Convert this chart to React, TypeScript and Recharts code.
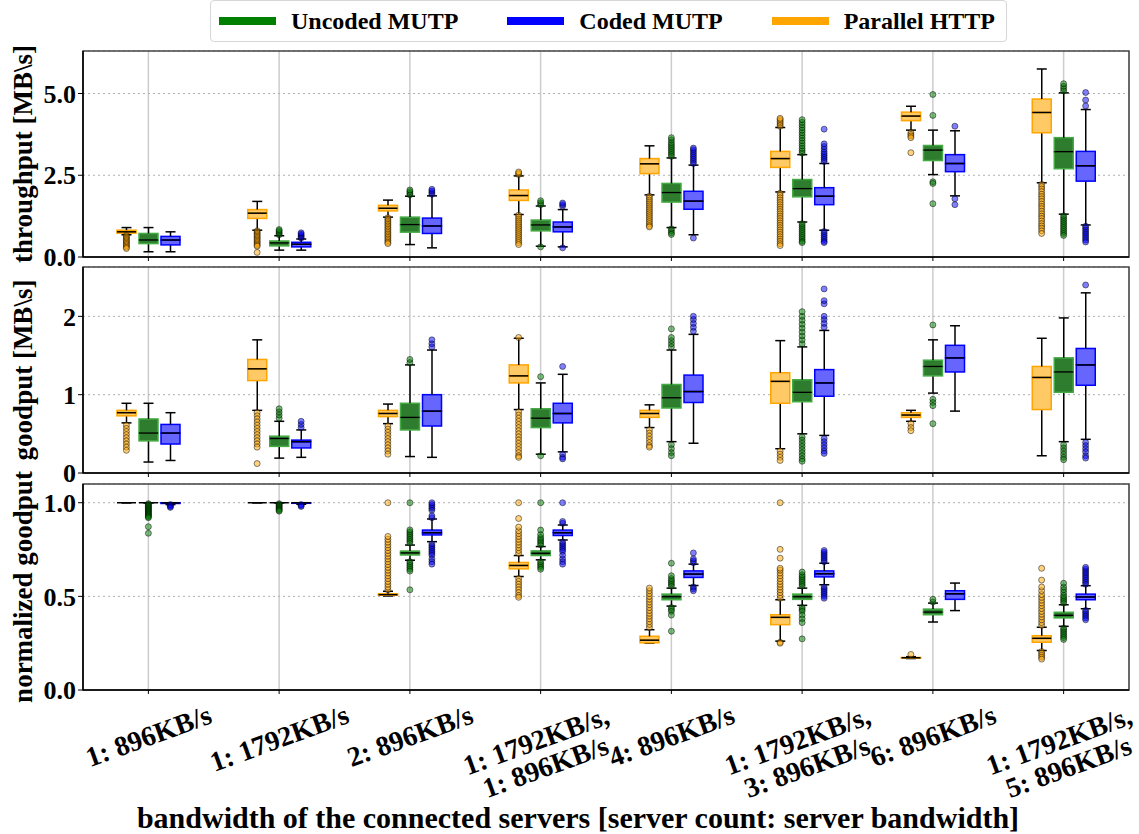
import React from 'react';
import { ComposedChart, Bar, Scatter, XAxis, YAxis, CartesianGrid, Label, ReferenceArea } from 'recharts';

const W = 1139;
const H = 834;
const FONT = '"Liberation Serif", "DejaVu Serif", serif';
const YW = 83; // width of the left axis block
const RIGHT = 10;
const BAR = 19;
const GAP = 3;
const CAP = 5;

const categories = [
  '1: 896KB/s',
  '1: 1792KB/s',
  '2: 896KB/s',
  '1: 1792KB/s,\n1: 896KB/s',
  '4: 896KB/s',
  '1: 1792KB/s,\n3: 896KB/s',
  '6: 896KB/s',
  '1: 1792KB/s,\n5: 896KB/s',
];

// box stats per category: [lower whisker, q1, median, q3, upper whisker]
const tputHttp = [
  [0.68, 0.73, 0.77, 0.82, 0.9], [0.82, 1.18, 1.34, 1.45, 1.7], [1.22, 1.41, 1.49, 1.58, 1.74], [1.3, 1.73, 1.88, 2.05, 2.48],
  [1.9, 2.55, 2.85, 3.01, 3.4], [1.99, 2.74, 3.01, 3.23, 3.96], [3.88, 4.17, 4.31, 4.43, 4.61], [2.27, 3.8, 4.42, 4.83, 5.75],
];
const tputUncoded = [
  [0.16, 0.41, 0.52, 0.72, 0.9], [0.21, 0.34, 0.43, 0.49, 0.65], [0.38, 0.76, 0.99, 1.22, 1.86], [0.33, 0.8, 0.98, 1.13, 1.56],
  [0.9, 1.68, 1.97, 2.25, 3.03], [1.07, 1.84, 2.09, 2.37, 3.13], [2.52, 2.95, 3.27, 3.41, 3.88], [1.31, 2.7, 3.22, 3.65, 5.02],
];
const tputCoded = [
  [0.16, 0.37, 0.52, 0.63, 0.77], [0.21, 0.31, 0.39, 0.45, 0.55], [0.28, 0.72, 0.95, 1.19, 1.87], [0.31, 0.77, 0.92, 1.07, 1.45],
  [0.68, 1.46, 1.71, 2.01, 2.81], [0.82, 1.6, 1.86, 2.12, 2.86], [1.87, 2.61, 2.86, 3.13, 3.86], [0.98, 2.32, 2.79, 3.23, 4.51],
];
const tputHttpOut = [
  [0.66, 0.62, 0.58, 0.54, 0.5, 0.46, 0.42, 0.38, 0.34, 0.3, 0.26],
  [0.8, 0.76, 0.72, 0.68, 0.64, 0.6, 0.56, 0.52, 0.48, 0.44, 0.4, 0.36, 0.33, 0.14],
  [1.2, 1.15, 1.1, 1.05, 1.0, 0.95, 0.9, 0.85, 0.8, 0.75, 0.7, 0.65, 0.6, 0.55, 0.5, 0.45, 0.41],
  [2.52, 2.56, 2.6, 1.28, 1.22, 1.16, 1.1, 1.04, 0.98, 0.92, 0.86, 0.8, 0.74, 0.68, 0.62, 0.56, 0.5, 0.44, 0.38],
  [1.86, 1.8, 1.74, 1.68, 1.62, 1.56, 1.5, 1.44, 1.38, 1.32, 1.26, 1.2, 1.14, 1.08, 1.02, 0.96, 0.92],
  [4.0, 4.05, 4.1, 4.15, 4.2, 4.24, 1.95, 1.88, 1.81, 1.74, 1.67, 1.6, 1.53, 1.46, 1.39, 1.32, 1.25, 1.18, 1.11, 1.04, 0.97, 0.9, 0.83, 0.76, 0.69, 0.62, 0.55, 0.48, 0.41, 0.35],
  [3.8, 3.75, 3.7, 3.65, 3.19],
  [2.22, 2.15, 2.08, 2.0, 1.92, 1.85, 1.78, 1.7, 1.62, 1.55, 1.48, 1.4, 1.32, 1.25, 1.18, 1.1, 1.02, 0.95, 0.88, 0.8, 0.72],
];
const tputUncodedOut = [
  [],
  [0.68, 0.72, 0.76, 0.8, 0.84],
  [1.9, 1.95, 2.0, 2.05],
  [1.6, 1.66, 1.72, 0.31],
  [3.08, 3.14, 3.2, 3.26, 3.32, 3.38, 3.44, 3.5, 3.58, 3.65, 0.86, 0.8, 0.74, 0.69],
  [3.18, 3.25, 3.32, 3.4, 3.48, 3.56, 3.64, 3.72, 3.8, 3.88, 3.96, 4.04, 4.12, 4.2, 1.02, 0.96, 0.9, 0.84, 0.78, 0.72, 0.66, 0.6, 0.54, 0.48, 0.44],
  [4.97, 4.33, 2.3, 2.25, 1.63],
  [5.08, 5.15, 5.22, 5.3, 1.26, 1.2, 1.14, 1.08, 1.02, 0.96, 0.9, 0.84, 0.78, 0.72, 0.66],
];
const tputCodedOut = [
  [],
  [0.58, 0.62, 0.66, 0.7, 0.74],
  [1.92, 1.97, 2.02, 2.07],
  [1.55, 1.6, 1.65, 0.28],
  [2.86, 2.92, 2.98, 3.04, 3.1, 3.16, 3.22, 3.28, 3.33, 0.58],
  [2.92, 2.98, 3.04, 3.1, 3.16, 3.22, 3.3, 3.38, 3.46, 3.91, 0.78, 0.72, 0.66, 0.6, 0.54, 0.48, 0.44],
  [4.0, 1.78, 1.6],
  [5.03, 4.8, 4.62, 0.94, 0.88, 0.82, 0.76, 0.7, 0.64, 0.58, 0.52, 0.46],
];

const gputHttp = [
  [0.64, 0.73, 0.77, 0.8, 0.89], [0.8, 1.18, 1.33, 1.45, 1.7], [0.63, 0.72, 0.76, 0.8, 0.88], [0.81, 1.15, 1.24, 1.38, 1.72],
  [0.58, 0.71, 0.76, 0.8, 0.87], [0.31, 0.89, 1.17, 1.28, 1.69], [0.66, 0.71, 0.74, 0.77, 0.8], [0.22, 0.81, 1.22, 1.36, 1.72],
];
const gputUncoded = [
  [0.14, 0.41, 0.51, 0.69, 0.89], [0.19, 0.34, 0.44, 0.47, 0.66], [0.21, 0.55, 0.71, 0.89, 1.38], [0.24, 0.58, 0.7, 0.82, 1.15],
  [0.4, 0.83, 0.96, 1.13, 1.57], [0.5, 0.91, 1.03, 1.19, 1.61], [1.02, 1.24, 1.36, 1.44, 1.7], [0.4, 1.03, 1.29, 1.47, 1.98],
];
const gputCoded = [
  [0.16, 0.37, 0.51, 0.62, 0.77], [0.2, 0.32, 0.4, 0.42, 0.55], [0.2, 0.6, 0.79, 1.0, 1.57], [0.27, 0.64, 0.76, 0.89, 1.26],
  [0.38, 0.9, 1.04, 1.25, 1.77], [0.48, 0.98, 1.15, 1.32, 1.82], [0.79, 1.29, 1.47, 1.63, 1.88], [0.43, 1.12, 1.38, 1.59, 2.3],
];
const gputHttpOut = [
  [0.61, 0.57, 0.53, 0.49, 0.45, 0.41, 0.37, 0.33, 0.29],
  [0.77, 0.73, 0.69, 0.65, 0.61, 0.57, 0.53, 0.49, 0.45, 0.41, 0.37, 0.33, 0.12],
  [0.6, 0.56, 0.52, 0.48, 0.44, 0.4, 0.36, 0.32, 0.28, 0.24],
  [1.73, 0.78, 0.74, 0.7, 0.66, 0.62, 0.58, 0.54, 0.5, 0.46, 0.42, 0.38, 0.34, 0.3, 0.26, 0.22, 0.2],
  [0.55, 0.51, 0.47, 0.43, 0.39, 0.35, 0.33],
  [0.28, 0.24, 0.2, 0.16],
  [0.63, 0.58, 0.54],
  [],
];
const gputUncodedOut = [
  [],
  [0.7, 0.74, 0.78, 0.82],
  [1.41, 1.45],
  [1.23, 0.22],
  [1.61, 1.65, 1.69, 1.73, 1.84, 0.36, 0.31, 0.26, 0.22],
  [1.65, 1.7, 1.75, 1.8, 1.85, 1.9, 1.95, 2.0, 2.06, 0.46, 0.42, 0.38, 0.34, 0.3, 0.26, 0.22, 0.18, 0.15],
  [1.89, 0.94, 0.9, 0.86, 0.63],
  [0.36, 0.32, 0.28, 0.24, 0.2, 0.17],
];
const gputCodedOut = [
  [],
  [0.58, 0.62, 0.66],
  [1.61, 1.65, 1.7],
  [1.36, 0.24, 0.2, 0.18],
  [1.81, 1.86, 1.91, 1.96, 2.0],
  [1.86, 1.91, 1.96, 2.0, 2.16, 2.2, 2.35, 0.44, 0.4, 0.36, 0.32, 0.28, 0.25],
  [],
  [2.4, 0.39, 0.35, 0.31, 0.27, 0.22, 0.19],
];

const normHttp = [
  [1.0, 1.0, 1.0, 1.0, 1.0], [1.0, 1.0, 1.0, 1.0, 1.0], [0.502, 0.506, 0.509, 0.514, 0.527], [0.606, 0.647, 0.665, 0.681, 0.718],
  [0.25, 0.252, 0.266, 0.287, 0.322], [0.261, 0.349, 0.388, 0.402, 0.482], [0.168, 0.17, 0.172, 0.174, 0.178], [0.211, 0.255, 0.276, 0.29, 0.335],
];
const normUncoded = [
  [1.0, 1.0, 1.0, 1.0, 1.0], [1.0, 1.0, 1.0, 1.0, 1.0], [0.693, 0.721, 0.732, 0.742, 0.774], [0.695, 0.718, 0.73, 0.743, 0.766],
  [0.448, 0.482, 0.498, 0.512, 0.544], [0.452, 0.484, 0.498, 0.512, 0.544], [0.363, 0.402, 0.416, 0.432, 0.464], [0.34, 0.385, 0.399, 0.415, 0.455],
];
const normCoded = [
  [0.99, 0.996, 0.999, 1.0, 1.0], [0.992, 0.997, 1.0, 1.0, 1.0], [0.792, 0.828, 0.84, 0.854, 0.913], [0.801, 0.825, 0.84, 0.854, 0.881],
  [0.558, 0.601, 0.619, 0.636, 0.672], [0.562, 0.604, 0.621, 0.636, 0.677], [0.424, 0.484, 0.514, 0.53, 0.571], [0.434, 0.482, 0.497, 0.512, 0.557],
];
const normHttpOut = [
  [],
  [],
  [0.535, 0.55, 0.565, 0.58, 0.595, 0.61, 0.625, 0.64, 0.655, 0.67, 0.685, 0.7, 0.715, 0.73, 0.745, 0.76, 0.775, 0.79, 0.805, 0.82, 1.0],
  [0.73, 0.745, 0.76, 0.775, 0.79, 0.805, 0.82, 0.835, 0.85, 0.87, 0.916, 1.0, 0.595, 0.58, 0.565, 0.55, 0.535, 0.52, 0.505, 0.495],
  [0.335, 0.35, 0.365, 0.38, 0.395, 0.41, 0.425, 0.44, 0.455, 0.47, 0.485, 0.5, 0.515, 0.53, 0.544],
  [0.49, 0.505, 0.52, 0.535, 0.55, 0.565, 0.58, 0.595, 0.61, 0.625, 0.64, 0.65, 0.704, 0.751, 1.0, 0.255, 0.25],
  [0.19],
  [0.345, 0.36, 0.375, 0.39, 0.405, 0.42, 0.435, 0.45, 0.465, 0.48, 0.495, 0.51, 0.53, 0.55, 0.587, 0.65, 0.205, 0.195, 0.185, 0.175, 0.165],
];
const normUncodedOut = [
  [0.995, 0.99, 0.985, 0.98, 0.975, 0.97, 0.965, 0.96, 0.955, 0.95, 0.945, 0.94, 0.935, 0.93, 0.925, 0.92, 0.872, 0.837],
  [0.995, 0.99, 0.985, 0.98, 0.975, 0.97, 0.965, 0.96, 0.955],
  [0.785, 0.795, 0.805, 0.815, 0.825, 0.835, 0.845, 0.855, 1.0, 0.685, 0.675, 0.665, 0.655, 0.645, 0.635, 0.535],
  [0.775, 0.785, 0.795, 0.805, 0.815, 0.83, 0.854, 1.0, 0.685, 0.675, 0.665, 0.655, 0.645],
  [0.555, 0.565, 0.575, 0.585, 0.595, 0.61, 0.677, 0.44, 0.43, 0.42, 0.4, 0.314],
  [0.555, 0.565, 0.575, 0.585, 0.595, 0.605, 0.615, 0.63, 0.44, 0.43, 0.42, 0.4, 0.38, 0.36, 0.273],
  [0.47, 0.485],
  [0.465, 0.475, 0.485, 0.495, 0.505, 0.52, 0.535, 0.55, 0.57, 0.33, 0.32, 0.31, 0.3, 0.29, 0.28, 0.27],
];
const normCodedOut = [
  [0.99, 0.985, 0.98, 0.975],
  [0.99, 0.985, 0.98],
  [0.92, 0.93, 0.96, 0.97, 0.98, 0.99, 1.0, 0.78, 0.77, 0.76, 0.75, 0.74, 0.73, 0.72, 0.7, 0.685, 0.672],
  [0.89, 0.9, 1.0, 0.79, 0.78, 0.77, 0.76, 0.75, 0.74, 0.72, 0.7, 0.685, 0.672],
  [0.68, 0.69, 0.7, 0.732, 0.55, 0.54, 0.53],
  [0.685, 0.695, 0.705, 0.715, 0.725, 0.735, 0.745, 0.55, 0.54, 0.53, 0.52, 0.51, 0.5, 0.49],
  [],
  [0.565, 0.575, 0.585, 0.595, 0.605, 0.615, 0.625, 0.635, 0.645, 0.655, 0.425, 0.415, 0.405, 0.395, 0.385, 0.375],
];

const tputTicks = [0, 2.5, 5.0];
const gputTicks = [0, 1, 2];
const normTicks = [0, 0.5, 1.0];

// left-to-right order inside each category
const series = [
  { key: 'http', name: 'Parallel HTTP', color: '#ffa500', face: '#ffc966', edge: '#ffa500' },
  { key: 'unc', name: 'Uncoded MUTP', color: '#008000', face: '#2e7d2e', edge: '#44aa44' },
  { key: 'cod', name: 'Coded MUTP', color: '#0000ff', face: '#6666ff', edge: '#0000ff' },
];
const legendOrder = ['unc', 'cod', 'http'];

const panels = [
  {
    label: 'throughput [MB\\s]', top: 51, bottom: 257, domain: [0, 6.3], ticks: tputTicks,
    fmt: (v: number) => v.toFixed(1),
    stats: { http: tputHttp, unc: tputUncoded, cod: tputCoded },
    out: { http: tputHttpOut, unc: tputUncodedOut, cod: tputCodedOut },
  },
  {
    label: 'goodput [MB\\s]', top: 267, bottom: 473, domain: [0, 2.63], ticks: gputTicks,
    fmt: (v: number) => String(v),
    stats: { http: gputHttp, unc: gputUncoded, cod: gputCoded },
    out: { http: gputHttpOut, unc: gputUncodedOut, cod: gputCodedOut },
  },
  {
    label: 'normalized goodput', top: 484, bottom: 690, domain: [0, 1.1], ticks: normTicks,
    fmt: (v: number) => v.toFixed(1),
    stats: { http: normHttp, unc: normUncoded, cod: normCoded },
    out: { http: normHttpOut, unc: normUncodedOut, cod: normCodedOut },
  },
];

const SEGS = ['base', 'lw', 'lb', 'ub', 'uw'];

// stacked segments: base (hidden), lower whisker, lower box, upper box, upper whisker
function boxRows(stats: Record<string, number[][]>) {
  return categories.map((name, i) => {
    const row: any = { name };
    series.forEach((s) => {
      const [mn, q1, md, q3, mx] = stats[s.key][i];
      row[s.key + '_base'] = mn;
      row[s.key + '_lw'] = q1 - mn;
      row[s.key + '_lb'] = md - q1;
      row[s.key + '_ub'] = q3 - md;
      row[s.key + '_uw'] = mx - q3;
    });
    return row;
  });
}

const OFFSET = (BAR + GAP) / ((W - YW - RIGHT) / categories.length);

function outlierPoints(out: number[][], slot: number) {
  return out.flatMap((vals, i) => vals.map((v) => ({ x: i + 0.5 + (slot - 1) * OFFSET, y: v })));
}

function segment(kind: string, s: any) {
  return (p: any) => {
    const top = Math.min(p.y, p.y + p.height);
    const bottom = top + Math.abs(p.height);
    const cx = p.x + p.width / 2;
    if (kind === 'base') return <g />;
    if (kind === 'lw' || kind === 'uw') {
      const capY = kind === 'lw' ? bottom : top;
      return (
        <g>
          <line x1={cx} x2={cx} y1={top} y2={bottom} stroke="#000" strokeWidth={1.5} />
          <line x1={cx - CAP} x2={cx + CAP} y1={capY} y2={capY} stroke="#000" strokeWidth={1.5} />
        </g>
      );
    }
    return (
      <g>
        <rect x={p.x} y={top} width={p.width} height={bottom - top} fill={s.face} stroke={s.edge} strokeWidth={1.5} />
        {kind === 'ub' && (
          <line x1={p.x} x2={p.x + p.width} y1={bottom} y2={bottom} stroke="#000" strokeWidth={1.5} />
        )}
      </g>
    );
  };
}

const XTICK_FS = 28;
const XTICK_ROT = 20;

function XTick(props: any) {
  const { x, y, payload } = props;
  const lines = String(payload.value).split('\n');
  const longest = Math.max(...lines.map((l) => l.length));
  const w = longest * XTICK_FS * 0.47;
  const h = lines.length * XTICK_FS;
  const a = (XTICK_ROT * Math.PI) / 180;
  const half = (w * Math.sin(a) + h * Math.cos(a)) / 2;
  const first = -((lines.length - 1) / 2) * XTICK_FS + XTICK_FS * 0.35;
  return (
    <g transform={`translate(${x},${y + 4 + half}) rotate(${-XTICK_ROT})`}>
      <text textAnchor="middle" fontSize={XTICK_FS} fontWeight="bold" fontFamily={FONT} fill="#000">
        {lines.map((l, i) => (
          <tspan key={i} x={0} dy={i === 0 ? first : XTICK_FS}>{l}</tspan>
        ))}
      </text>
    </g>
  );
}

function Panel({ p, last }: { p: any; last: boolean }) {
  const data = boxRows(p.stats);
  const xh = last ? 144 : 5;
  return (
    <div style={{ position: 'absolute', left: 0, top: 0 }}>
      <ComposedChart
        width={W}
        height={H}
        data={data}
        margin={{ top: p.top, right: RIGHT, bottom: H - p.bottom - xh, left: 0 }}
        barSize={BAR}
        barGap={GAP}
      >
        <CartesianGrid horizontal={false} stroke="#cccccc" strokeWidth={1.5} />
        <CartesianGrid vertical={false} stroke="#b0b0b0" strokeDasharray="2 3" />
        <XAxis
          dataKey="name"
          interval={0}
          height={xh}
          tickSize={4}
          axisLine={{ stroke: '#000', strokeWidth: 1.5 }}
          tickLine={{ stroke: '#000' }}
          tick={last ? <XTick /> : () => <g />}
        >
          {last && (
            <Label
              value="bandwidth of the connected servers [server count: server bandwidth]"
              position="insideBottom"
              offset={6}
              dx={-28}
              style={{ fontSize: 30, fontWeight: 'bold', fill: '#000', fontFamily: FONT }}
            />
          )}
        </XAxis>
        <XAxis xAxisId="num" type="number" dataKey="x" domain={[0, categories.length]} hide allowDataOverflow />
        <YAxis
          domain={p.domain}
          ticks={p.ticks}
          tickFormatter={p.fmt}
          width={YW}
          tickSize={5}
          allowDataOverflow
          axisLine={{ stroke: '#000', strokeWidth: 1.5 }}
          tickLine={{ stroke: '#000' }}
          tick={{ fontSize: 26, fontWeight: 'bold', fill: '#000', fontFamily: FONT }}
        >
          <Label
            value={p.label}
            angle={-90}
            position="insideLeft"
            offset={22}
            style={{ textAnchor: 'middle', fontSize: 27, fontWeight: 'bold', fill: '#000', fontFamily: FONT }}
          />
        </YAxis>
        <ReferenceArea
          xAxisId="num"
          x1={0}
          x2={categories.length}
          y1={p.domain[0]}
          y2={p.domain[1]}
          fill="none"
          fillOpacity={0}
          stroke="#444"
          strokeWidth={1.5}
          ifOverflow="visible"
        />
        {series.flatMap((s) =>
          SEGS.map((seg) => (
            <Bar
              key={s.key + seg}
              dataKey={s.key + '_' + seg}
              stackId={s.key}
              shape={segment(seg, s)}
              isAnimationActive={false}
            />
          ))
        )}
        {series.map((s, slot) => (
          <Scatter
            key={s.key + 'out'}
            xAxisId="num"
            data={outlierPoints(p.out[s.key], slot)}
            dataKey="y"
            isAnimationActive={false}
            shape={(q: any) => (
              <circle cx={q.cx} cy={q.cy} r={3} fill={s.color} fillOpacity={0.5} stroke="#000" strokeOpacity={0.6} strokeWidth={0.8} />
            )}
          />
        ))}
      </ComposedChart>
    </div>
  );
}

function LegendBox() {
  return (
    <div
      style={{
        position: 'absolute', left: 210, top: 0, width: 797, height: 42, boxSizing: 'border-box',
        border: '1px solid #d6d6d6', borderRadius: 4, display: 'flex', alignItems: 'center',
        paddingLeft: 8, background: '#fff', zIndex: 2, whiteSpace: 'nowrap',
      }}
    >
      {legendOrder.map((k) => {
        const s = series.find((e) => e.key === k)!;
        return (
          <div key={k} style={{ display: 'flex', alignItems: 'center', marginRight: 49, flexShrink: 0 }}>
            <div style={{ width: 57, height: 8, background: s.color, marginRight: 15, flexShrink: 0 }} />
            <span style={{ fontFamily: FONT, fontWeight: 'bold', fontSize: 24, color: '#000', whiteSpace: 'nowrap' }}>
              {s.name}
            </span>
          </div>
        );
      })}
    </div>
  );
}

export default function App() {
  return (
    <div style={{ position: 'absolute', left: 0, top: 0, width: W, height: H, background: '#fff', fontFamily: FONT }}>
      {panels.map((p, i) => (
        <Panel key={p.label} p={p} last={i === panels.length - 1} />
      ))}
      <LegendBox />
    </div>
  );
}
